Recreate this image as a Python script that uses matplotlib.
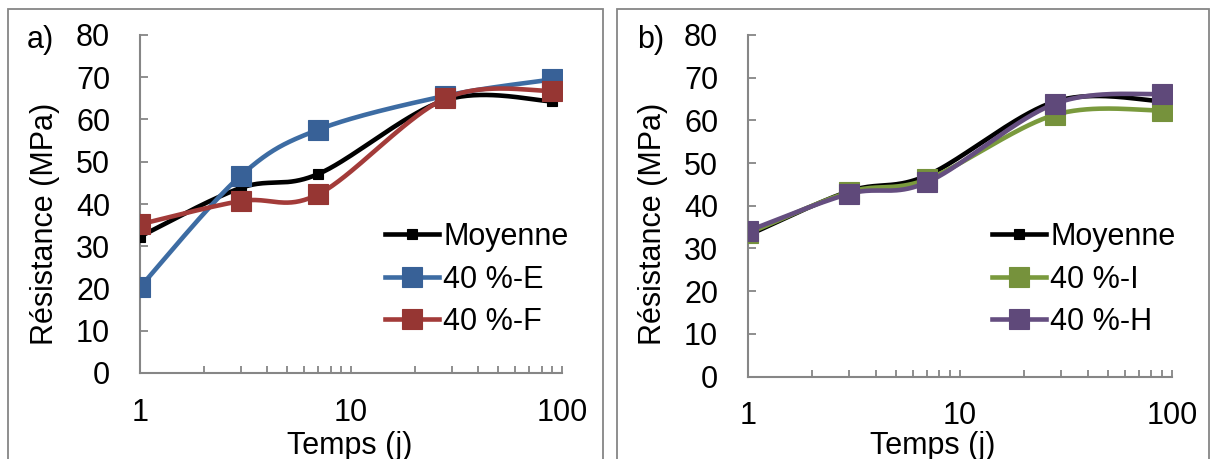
import numpy as np
import matplotlib
matplotlib.use('Agg')
import matplotlib.pyplot as plt
from matplotlib.patches import Rectangle
from matplotlib.ticker import LogLocator, FixedLocator, NullFormatter, FixedFormatter

plt.rcParams['font.family'] = ['Liberation Sans', 'DejaVu Sans']

# ---------------- data ----------------
days = [1, 3, 7, 28, 90]
moyenne_a = [32.3, 43.8, 47.1, 64.6, 64.3]
e_40 = [20.3, 46.7, 57.6, 65.6, 69.5]
f_40 = [35.2, 40.7, 42.3, 65.0, 66.8]
moyenne_b = [33.1, 43.4, 47.1, 64.4, 64.5]
i_40 = [33.5, 43.2, 46.2, 61.3, 62.3]
h_40 = [34.1, 42.8, 45.5, 63.9, 66.2]

labels_a = ['Moyenne', '40 %-E', '40 %-F']
labels_b = ['Moyenne', '40 %-I', '40 %-H']
panel_tags = ['a)', 'b)']
y_ticks = [0, 10, 20, 30, 40, 50, 60, 70, 80]
x_major = [1, 10, 100]
x_tick_labels = ['1', '10', '100']
x_title = 'Temps (j)'
y_title = 'Résistance (MPa)'

# ---------------- style ----------------
W, H = 1212, 459
FS = 22
GRAY = '#868686'
BLACK = '#000000'
BLUE_L, BLUE_M = '#3D6CA3', '#386197'
RED_L, RED_M = '#A33B39', '#963633'
GRN_L, GRN_M = '#7A9A3D', '#76923C'
PUR_L, PUR_M = '#654E80', '#5F497A'
LW = 3.3


def smooth(xs, ys, n=40):
    """Excel-like smoothed line (Catmull-Rom Bezier in log-x space)."""
    lx = np.log10(np.asarray(xs, float))
    y = np.asarray(ys, float)
    P = np.column_stack([lx, y])
    Pe = np.vstack([P[0], P, P[-1]])
    t = np.linspace(0, 1, n)[:, None]
    segs = []
    for i in range(len(P) - 1):
        p0, p1, p2, p3 = Pe[i], Pe[i + 1], Pe[i + 2], Pe[i + 3]
        c1 = p1 + (p2 - p0) / 6.0
        c2 = p2 - (p3 - p1) / 6.0
        b = ((1 - t) ** 3) * p1 + 3 * ((1 - t) ** 2) * t * c1 + 3 * (1 - t) * t ** 2 * c2 + t ** 3 * p2
        segs.append(b if i == 0 else b[1:])
    B = np.vstack(segs)
    return 10 ** B[:, 0], B[:, 1]


fig = plt.figure(figsize=(W / 100, H / 100), dpi=100)


def px(x, y):
    return x / W, 1 - y / H


# panel frames
for x0, x1 in [(8, 603), (617, 1209)]:
    fig.add_artist(Rectangle(px(x0, 470), (x1 - x0) / W, (470 - 9) / H,
                             transform=fig.transFigure, fill=False,
                             edgecolor=GRAY, linewidth=1.3, zorder=0))


def make_panel(rect, series, labels, tag, tagpos, ylab_pos, xlab_pos, leg_pos):
    ax = fig.add_axes(rect)
    ax.set_xscale('log')
    ax.set_xlim(1, 100)
    ax.set_ylim(0, 80)
    handles = []
    for (vals, lc, mc, ms, mec) in series:
        sx, sy = smooth(days, vals)
        ax.plot(sx, sy, color=lc, linewidth=LW, solid_capstyle='round', zorder=2)
        ax.plot(days, vals, linestyle='none', marker='s', markersize=ms,
                markerfacecolor=mc, markeredgecolor=mec, markeredgewidth=0.8, zorder=3)
        h, = ax.plot([], [], color=lc, linewidth=LW, marker='s', markersize=ms,
                     markerfacecolor=mc, markeredgecolor=mec, markeredgewidth=0.8)
        handles.append(h)
    for s in ['top', 'right']:
        ax.spines[s].set_visible(False)
    for s in ['left', 'bottom']:
        ax.spines[s].set_color(GRAY)
        ax.spines[s].set_linewidth(1.5)
    ax.set_yticks(y_ticks)
    ax.set_yticklabels([str(v) for v in y_ticks])
    ax.xaxis.set_major_locator(FixedLocator(x_major))
    ax.xaxis.set_major_formatter(FixedFormatter(x_tick_labels))
    ax.xaxis.set_minor_locator(LogLocator(base=10, subs=np.arange(2, 10)))
    ax.xaxis.set_minor_formatter(NullFormatter())
    ax.tick_params(axis='y', direction='in', length=6, width=1.3, color=GRAY,
                   pad=21.5, labelsize=FS)
    ax.tick_params(axis='x', which='both', direction='in', length=5, width=1.3,
                   color=GRAY, pad=18, labelsize=FS)
    ax.patch.set_alpha(0)
    fig.text(*px(*tagpos), tag, fontsize=FS, ha='left', va='baseline')
    fig.text(*px(*ylab_pos), y_title, fontsize=FS, rotation=90, ha='center', va='center')
    fig.text(*px(*xlab_pos), x_title, fontsize=FS, ha='center', va='baseline')
    ax.legend(handles, labels, loc='upper left', bbox_to_anchor=px(*leg_pos),
              bbox_transform=fig.transFigure, frameon=False, fontsize=FS,
              handlelength=1.77, handletextpad=0.13, labelspacing=0.41,
              borderpad=0, borderaxespad=0, numpoints=1)
    return ax


series_a = [
    (moyenne_a, BLACK, BLACK, 7.5, BLACK),
    (e_40, BLUE_L, BLUE_M, 14, BLUE_M),
    (f_40, RED_L, RED_M, 14, RED_M),
]
series_b = [
    (moyenne_b, BLACK, BLACK, 7.5, BLACK),
    (i_40, GRN_L, GRN_M, 14, GRN_M),
    (h_40, PUR_L, PUR_M, 14, PUR_M),
]

make_panel([140 / W, 1 - 373 / H, (562 - 140) / W, (373 - 35) / H],
           series_a, labels_a, panel_tags[0], (27, 48), (45, 224), (350, 454), (385, 222))
make_panel([748 / W, 1 - 376.5 / H, (1172 - 748) / W, (376.5 - 35) / H],
           series_b, labels_b, panel_tags[1], (637, 48), (653, 224), (933, 454), (992, 222))

fig.savefig('out.png', dpi=100)
